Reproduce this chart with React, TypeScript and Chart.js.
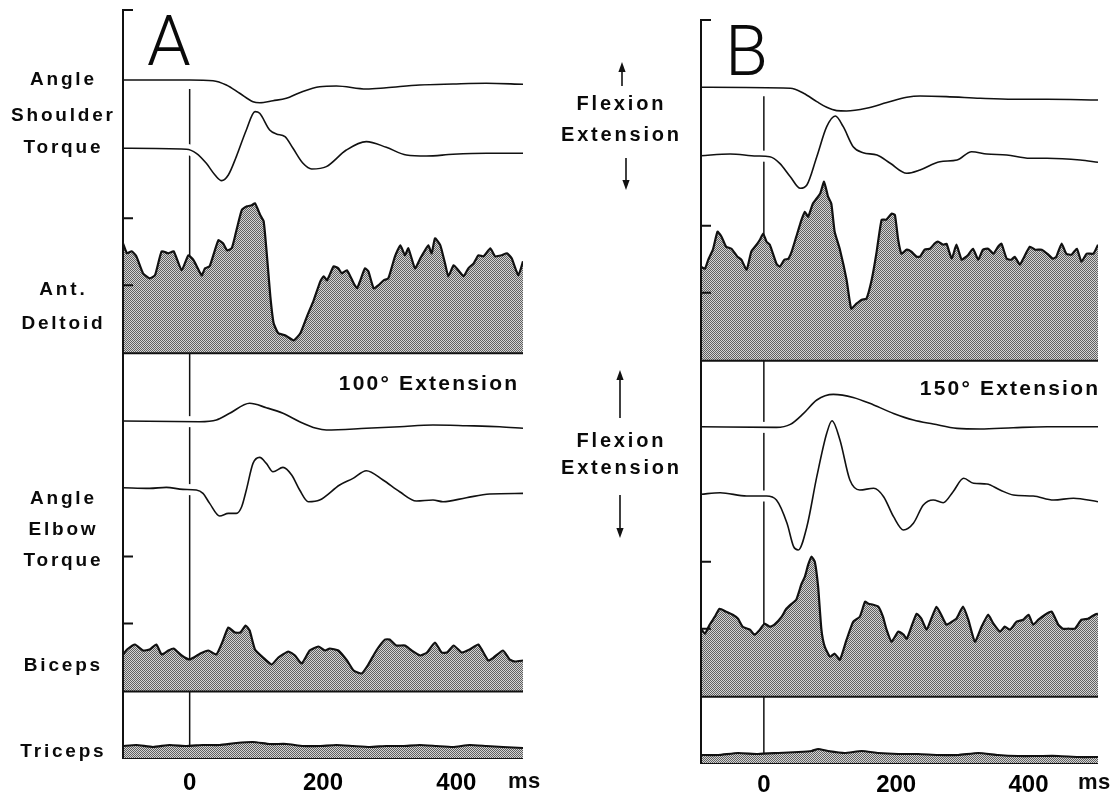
import React, { useEffect, useRef } from 'react';
import { Chart, registerables } from 'chart.js';

Chart.register(...registerables);

// ---------------- shared ----------------
const X_TICKS = [0, 200, 400];
const EMG_CALIB = [68, 135];
const ZERO_LINE_START = -9;

// ---------------- Panel A : 100° extension ----------------
const A_SH_ANGLE_T = [-100, 0, 35, 55, 75, 95, 105, 125, 145, 165, 195, 220, 265, 295, 345, 395, 445, 500];
const A_SH_ANGLE_V = [0, 0, -0.7, -5, -13.3, -21.7, -22.7, -20.7, -18.3, -12.7, -6.7, -6, -9, -7.7, -5, -4, -3.3, -4.3];

const A_SH_TORQUE_T = [-100, -5, 10, 25, 38, 48, 58, 70, 85, 98, 105, 120, 130, 143, 155, 170, 183, 205, 235, 265, 295, 325, 355, 395, 445, 500];
const A_SH_TORQUE_V = [0, -1, -5, -15, -26.7, -32.3, -26.7, -8.3, 18.3, 36.7, 35, 18.3, 14.3, 11.7, 0, -15, -20.7, -18.3, -1.7, 6.7, 1, -6.7, -7.7, -6, -5, -5];

const A_DELTOID_T = [-100, -94, -87, -80, -70, -60, -52, -42, -32, -24, -12, -2, 6, 18, 23, 30, 43, 50, 56, 63, 68, 78, 86, 93, 98, 106, 111, 116, 121, 126, 133, 143, 156, 166, 176, 186, 196, 201, 206, 216, 223, 228, 236, 246, 251, 256, 263, 268, 276, 283, 291, 298, 308, 316, 323, 328, 338, 346, 353, 358, 363, 368, 376, 383, 388, 396, 403, 411, 418, 426, 433, 441, 451, 458, 468, 476, 483, 493, 500];
const A_DELTOID_V = [110, 100, 102, 97, 80, 75, 78, 102, 100, 102, 83, 98, 93, 78, 85, 87, 113, 110, 103, 105, 117, 143, 147, 148, 150, 138, 132, 97, 57, 30, 20, 18, 13, 20, 37, 53, 72, 77, 73, 87, 85, 80, 83, 70, 65, 73, 85, 82, 65, 68, 73, 75, 97, 108, 98, 105, 85, 95, 103, 108, 100, 115, 108, 90, 77, 88, 83, 77, 85, 90, 98, 97, 105, 97, 98, 100, 95, 78, 92];

const A_EL_ANGLE_T = [-100, 15, 40, 60, 90, 115, 140, 165, 190, 205, 265, 315, 365, 415, 465, 500];
const A_EL_ANGLE_V = [0, -0.7, 1, 7.7, 17.7, 13.3, 7.7, -0.7, -7.3, -9, -7.3, -5.7, -4, -4.7, -5.7, -7.3];

const A_EL_TORQUE_T = [-100, -60, -35, -10, 10, 20, 30, 45, 58, 70, 78, 85, 95, 105, 115, 125, 140, 153, 165, 178, 195, 225, 245, 265, 290, 315, 340, 365, 380, 415, 450, 500];
const A_EL_TORQUE_V = [0, -0.7, 0.3, -1.7, -2.3, -5.7, -15.7, -28.3, -25.7, -25.7, -19, -2.3, 24.3, 30.3, 24.3, 16, 20.3, 12.7, -2.3, -14, -12.3, 2.7, 9.3, 17, 7.7, -4, -13.3, -12.3, -14, -10, -6.3, -5.7];

const A_BICEPS_T = [-100, -94, -82, -70, -60, -50, -42, -32, -24, -12, 0, 16, 28, 40, 50, 58, 68, 76, 84, 90, 98, 110, 123, 133, 148, 158, 168, 180, 193, 203, 210, 223, 236, 246, 258, 268, 280, 293, 300, 310, 323, 333, 346, 356, 368, 378, 386, 396, 408, 420, 433, 448, 456, 470, 480, 488, 500];
const A_BICEPS_V = [37, 42, 47, 41, 42, 47, 37, 41, 43, 36, 32, 38, 41, 37, 51, 64, 59, 59, 66, 61, 42, 34, 27, 34, 40, 36, 28, 41, 45, 41, 43, 41, 31, 21, 18, 27, 41, 52, 52, 46, 46, 41, 36, 39, 49, 39, 39, 46, 39, 42, 47, 31, 34, 41, 32, 30, 31];

const A_TRICEPS_T = [-100, -80, -55, -30, -5, 20, 45, 70, 95, 120, 145, 170, 195, 220, 245, 270, 295, 320, 345, 370, 395, 420, 445, 470, 500];
const A_TRICEPS_V = [13, 14, 12, 14, 13, 14, 14, 16, 17, 15, 15, 13, 13, 14, 13, 12, 13, 13, 14, 13, 12, 14, 13, 12, 11];

// ---------------- Panel B : 150° extension ----------------
const B_SH_ANGLE_T = [-95, 40, 60, 80, 95, 110, 125, 155, 186, 216, 236, 276, 327, 377, 428, 505];
const B_SH_ANGLE_V = [0, -1, -6, -14.3, -20, -23.3, -23.7, -21, -15.3, -10, -8.7, -9.3, -11, -12, -12, -12.7];

const B_SH_TORQUE_T = [-95, -51, -11, 9, 24, 40, 55, 65, 80, 95, 108, 120, 135, 150, 171, 191, 216, 236, 266, 292, 314, 337, 367, 402, 428, 478, 505];
const B_SH_TORQUE_V = [-0.7, 1, -1, -1.7, -8.3, -21.7, -33.3, -30, -1.7, 28.3, 39, 28.3, 8.3, 2.3, 0, -8.3, -18.3, -15, -6.7, -5, 3.3, 1, 0, -3.3, -3.3, -5, -7.3];

const B_DELTOID_T = [-95, -89, -84, -77, -70, -64, -57, -49, -40, -34, -26, -19, -11, -6, -1, 4, 9, 19, 24, 31, 37, 42, 49, 57, 62, 67, 74, 85, 91, 97, 102, 107, 115, 125, 132, 140, 148, 155, 163, 170, 178, 185, 193, 198, 203, 208, 216, 223, 231, 236, 243, 251, 258, 263, 271, 276, 284, 291, 299, 309, 316, 324, 331, 339, 347, 354, 359, 367, 374, 379, 387, 392, 402, 410, 420, 430, 437, 442, 450, 457, 465, 473, 480, 488, 498, 505];
const B_DELTOID_V = [94, 92, 101, 111, 129, 124, 114, 112, 104, 101, 91, 109, 116, 121, 127, 119, 116, 97, 94, 101, 102, 109, 124, 141, 149, 144, 157, 167, 179, 164, 157, 129, 111, 81, 52, 57, 61, 62, 81, 107, 141, 141, 147, 146, 121, 107, 111, 109, 104, 104, 111, 112, 117, 119, 116, 117, 102, 116, 101, 106, 112, 101, 111, 112, 107, 114, 117, 102, 101, 104, 96, 102, 114, 111, 111, 106, 102, 104, 117, 107, 106, 112, 99, 107, 107, 116];

const B_EL_ANGLE_T = [-95, 19, 40, 60, 80, 105, 135, 166, 196, 226, 256, 292, 327, 377, 428, 505];
const B_EL_ANGLE_V = [0, -0.7, 2.3, 13.3, 26.7, 32.3, 29.3, 21.7, 13.3, 6.7, 2.7, -1.7, -2.3, -1, 0, 0];

const B_EL_TORQUE_T = [-95, -66, -26, 4, 19, 35, 45, 52, 65, 80, 95, 103, 115, 130, 145, 166, 181, 196, 211, 226, 241, 256, 271, 286, 302, 317, 337, 357, 377, 407, 438, 468, 505];
const B_EL_TORQUE_V = [0.7, 2.3, -1, -1, -5, -28.3, -51.7, -55, -31.7, 18.3, 61.7, 74.3, 55, 15, 5, 6.7, -1.7, -21.7, -35, -28.3, -10, -5, -7.7, 3.3, 16.7, 11.7, 11, 5, 0, -1, -5, -3.3, -6.7];

const B_BICEPS_T = [-95, -89, -82, -74, -67, -57, -47, -39, -32, -21, -14, -6, 1, 9, 16, 27, 34, 42, 49, 57, 62, 67, 72, 77, 82, 87, 92, 100, 107, 115, 125, 135, 145, 153, 158, 165, 173, 180, 185, 193, 203, 211, 216, 223, 231, 238, 246, 253, 261, 268, 276, 284, 291, 301, 309, 319, 329, 339, 347, 357, 364, 372, 382, 392, 400, 407, 415, 425, 435, 445, 452, 460, 470, 480, 490, 500, 505];
const B_BICEPS_V = [68, 63, 72, 80, 88, 85, 82, 78, 70, 67, 62, 67, 73, 70, 72, 80, 88, 93, 97, 113, 120, 132, 140, 135, 110, 67, 50, 40, 43, 37, 57, 75, 80, 95, 93, 92, 90, 80, 68, 55, 65, 62, 58, 70, 83, 78, 67, 78, 90, 82, 72, 75, 78, 90, 77, 55, 70, 82, 73, 65, 70, 67, 75, 77, 82, 72, 77, 82, 85, 72, 68, 68, 68, 77, 78, 82, 83];

const B_TRICEPS_T = [-95, -69, -39, -9, 22, 52, 72, 82, 97, 122, 148, 173, 203, 233, 263, 294, 324, 354, 384, 415, 445, 475, 505];
const B_TRICEPS_V = [9, 9, 11, 10, 11, 12, 13, 15, 13, 11, 13, 11, 10, 10, 9, 9, 11, 9, 8, 8, 8, 7, 7];

// ---------------- layout (positions / styles only) ----------------
const FONT = '"Liberation Sans", Arial, Helvetica, sans-serif';
const PAGE_W = 1112;
const PAGE_H = 797;

type Trace = { id: string; t: number[]; v: number[]; base: number };
type Panel = {
  left: number; width: number; height: number;
  area: { top: number; bottom: number; left: number; right: number };
  xMin: number; xMax: number; tickPad: number;
  lines: Trace[]; emg: Trace[]; calib: string[];
};

const PANEL_A: Panel = {
  left: 0, width: 556, height: PAGE_H,
  area: { top: 10, bottom: 759, left: 123, right: 523 },
  xMin: -100, xMax: 500, tickPad: 10,
  lines: [
    { id: 'ySA', t: A_SH_ANGLE_T, v: A_SH_ANGLE_V, base: 80 },
    { id: 'yST', t: A_SH_TORQUE_T, v: A_SH_TORQUE_V, base: 148.3 },
    { id: 'yEA', t: A_EL_ANGLE_T, v: A_EL_ANGLE_V, base: 421 },
    { id: 'yET', t: A_EL_TORQUE_T, v: A_EL_TORQUE_V, base: 487.7 },
  ],
  emg: [
    { id: 'yDE', t: A_DELTOID_T, v: A_DELTOID_V, base: 353.3 },
    { id: 'yBI', t: A_BICEPS_T, v: A_BICEPS_V, base: 691.5 },
    { id: 'yTR', t: A_TRICEPS_T, v: A_TRICEPS_V, base: 759 },
  ],
  calib: ['yDE', 'yBI'],
};

const PANEL_B: Panel = {
  left: 556, width: 556, height: PAGE_H,
  area: { top: 20, bottom: 764, left: 145, right: 542 },
  xMin: -95, xMax: 505, tickPad: 7,
  lines: [
    { id: 'ySA', t: B_SH_ANGLE_T, v: B_SH_ANGLE_V, base: 87.3 },
    { id: 'yST', t: B_SH_TORQUE_T, v: B_SH_TORQUE_V, base: 155 },
    { id: 'yEA', t: B_EL_ANGLE_T, v: B_EL_ANGLE_V, base: 426.7 },
    { id: 'yET', t: B_EL_TORQUE_T, v: B_EL_TORQUE_V, base: 495 },
  ],
  emg: [
    { id: 'yDE', t: B_DELTOID_T, v: B_DELTOID_V, base: 360.7 },
    { id: 'yBI', t: B_BICEPS_T, v: B_BICEPS_V, base: 696.7 },
    { id: 'yTR', t: B_TRICEPS_T, v: B_TRICEPS_V, base: 764 },
  ],
  calib: ['yDE', 'yBI'],
};

function zip(t: number[], v: number[]) {
  return t.map((x, i) => ({ x, y: v[i] }));
}

function makePattern(): CanvasPattern | string {
  const c = document.createElement('canvas');
  c.width = 2;
  c.height = 2;
  const g = c.getContext('2d');
  if (!g) return '#9a9a9a';
  g.fillStyle = '#d4d4d4';
  g.fillRect(0, 0, 2, 2);
  g.fillStyle = '#606060';
  g.fillRect(0, 0, 1, 1);
  g.fillRect(1, 1, 1, 1);
  return g.createPattern(c, 'repeat') || '#9a9a9a';
}

function buildChart(canvas: HTMLCanvasElement, p: Panel) {
  const pattern = makePattern();
  const ink = '#111';
  const scales: any = {
    x: {
      type: 'linear',
      position: 'bottom',
      min: p.xMin,
      max: p.xMax,
      grid: { display: false, drawTicks: false },
      border: { display: false },
      ticks: {
        color: '#000',
        padding: p.tickPad,
        maxRotation: 0,
        autoSkip: false,
        font: { family: FONT, size: 24, weight: 'bold' },
      },
      afterBuildTicks: (s: any) => {
        s.ticks = X_TICKS.map((value) => ({ value }));
      },
      afterFit: (s: any) => {
        s.height = p.height - p.area.bottom;
      },
    },
  };
  const addAxis = (tr: Trace) => {
    scales[tr.id] = {
      type: 'linear',
      axis: 'y',
      position: 'left',
      display: false,
      min: -(p.area.bottom - tr.base),
      max: tr.base - p.area.top,
    };
  };
  const datasets: any[] = [];
  p.lines.forEach((tr) => {
    addAxis(tr);
    const data = zip(tr.t, tr.v);
    datasets.push({
      data, yAxisID: tr.id, borderColor: '#ffffff', borderWidth: 11,
      pointRadius: 0, fill: false, cubicInterpolationMode: 'monotone', order: 10,
    });
    datasets.push({
      data, yAxisID: tr.id, borderColor: ink, borderWidth: 1.6,
      pointRadius: 0, fill: false, cubicInterpolationMode: 'monotone', order: 1,
    });
  });
  p.emg.forEach((tr) => {
    addAxis(tr);
    datasets.push({
      data: zip(tr.t, tr.v), yAxisID: tr.id, borderColor: ink, borderWidth: 2.2,
      backgroundColor: pattern, fill: 'origin', pointRadius: 0, tension: 0.15, order: 3,
    });
    datasets.push({
      data: [{ x: p.xMin, y: 0 }, { x: p.xMax, y: 0 }], yAxisID: tr.id,
      borderColor: ink, borderWidth: 2, pointRadius: 0, fill: false, order: 2,
    });
  });

  const framePlugin = {
    id: 'frame',
    beforeDatasetsDraw(chart: any) {
      const { ctx, chartArea, scales: sc } = chart;
      const x0 = sc.x.getPixelForValue(0);
      const y0 = sc.ySA.getPixelForValue(ZERO_LINE_START);
      ctx.save();
      ctx.strokeStyle = ink;
      ctx.lineWidth = 1.5;
      ctx.beginPath();
      ctx.moveTo(x0, y0);
      ctx.lineTo(x0, chartArea.bottom);
      ctx.stroke();
      ctx.restore();
    },
    afterDatasetsDraw(chart: any) {
      const { ctx, chartArea, scales: sc } = chart;
      const l = chartArea.left;
      ctx.save();
      ctx.strokeStyle = ink;
      ctx.lineWidth = 2;
      ctx.beginPath();
      ctx.moveTo(l + 10, chartArea.top);
      ctx.lineTo(l, chartArea.top);
      ctx.lineTo(l, chartArea.bottom);
      p.calib.forEach((id) => {
        EMG_CALIB.forEach((v) => {
          const y = sc[id].getPixelForValue(v);
          ctx.moveTo(l, y);
          ctx.lineTo(l + 10, y);
        });
      });
      ctx.stroke();
      ctx.restore();
    },
  };

  return new Chart(canvas, {
    type: 'line',
    data: { datasets },
    options: {
      animation: false,
      responsive: false,
      events: [],
      devicePixelRatio: 1,
      layout: {
        padding: { left: p.area.left, right: p.width - p.area.right, top: p.area.top, bottom: 0 },
      },
      plugins: { legend: { display: false }, tooltip: { enabled: false } },
      scales,
    } as any,
    plugins: [framePlugin],
  });
}

function PanelCanvas({ p }: { p: Panel }) {
  const ref = useRef<HTMLCanvasElement | null>(null);
  useEffect(() => {
    if (!ref.current) return;
    const chart = buildChart(ref.current, p);
    return () => chart.destroy();
  }, [p]);
  return (
    <canvas
      ref={ref}
      width={p.width}
      height={p.height}
      style={{ position: 'absolute', left: p.left, top: 0, width: p.width, height: p.height }}
    />
  );
}

type TextProps = {
  text: string; x: number; baseline: number; size: number;
  align?: 'center' | 'left' | 'right'; spacing?: number; weight?: number; family?: string;
};

function Txt({ text, x, baseline, size, align = 'center', spacing = 0, weight = 700, family = FONT }: TextProps) {
  const top = baseline - 0.846 * size;
  const style: React.CSSProperties = {
    position: 'absolute',
    top,
    fontFamily: family,
    fontSize: size,
    fontWeight: weight,
    lineHeight: `${size}px`,
    letterSpacing: spacing,
    whiteSpace: 'nowrap',
    color: '#0a0a0a',
  };
  if (align === 'center') {
    style.left = x - 150;
    style.width = 300;
    style.textAlign = 'center';
    style.paddingLeft = spacing;
    style.boxSizing = 'border-box';
  } else if (align === 'left') {
    style.left = x;
  } else {
    style.right = PAGE_W - x - spacing;
    style.textAlign = 'right';
  }
  return <div style={style}>{text}</div>;
}

function Arrow({ x, tail, tip }: { x: number; tail: number; tip: number }) {
  const dir = tip > tail ? 1 : -1;
  const hb = tip - dir * 10;
  return (
    <g>
      <line x1={x} y1={tail} x2={x} y2={hb} stroke="#111" strokeWidth={1.6} />
      <polygon points={`${x - 3.6},${hb} ${x + 3.6},${hb} ${x},${tip}`} fill="#111" />
    </g>
  );
}

const LEFT_LABELS: [string, number][] = [
  ['Angle', 85], ['Shoulder', 121], ['Torque', 153], ['Ant.', 295], ['Deltoid', 329],
  ['Angle', 504], ['Elbow', 535], ['Torque', 566], ['Biceps', 671], ['Triceps', 757],
];
const MID_LABELS: [string, number][] = [
  ['Flexion', 110], ['Extension', 141], ['Flexion', 447], ['Extension', 474],
];

export default function App() {
  return (
    <div
      style={{
        position: 'fixed', left: 0, top: 0, width: PAGE_W, height: PAGE_H,
        background: '#ffffff', overflow: 'hidden',
      }}
    >
      <PanelCanvas p={PANEL_A} />
      <PanelCanvas p={PANEL_B} />

      {LEFT_LABELS.map(([t, b], i) => (
        <Txt key={'l' + i} text={t} x={62} baseline={b} size={19} spacing={2.8} />
      ))}
      {MID_LABELS.map(([t, b], i) => (
        <Txt key={'m' + i} text={t} x={620} baseline={b} size={20} spacing={2.8} />
      ))}

      <Txt text="100° Extension" x={517} baseline={390} size={21} spacing={2.2} align="right" />
      <Txt text="150° Extension" x={1098} baseline={395} size={21} spacing={2.2} align="right" />

      <Txt text="ms" x={508} baseline={789} size={22} spacing={0.5} align="left" />
      <Txt text="ms" x={1078} baseline={790} size={22} spacing={0.5} align="left" />

      <Txt text="A" x={147} baseline={65} size={70} align="left" weight={300} family="Roboto, 'DejaVu Sans', sans-serif" />
      <Txt text="B" x={725} baseline={75} size={70} align="left" weight={300} family="Roboto, 'DejaVu Sans', sans-serif" />

      <svg
        width={PAGE_W}
        height={PAGE_H}
        style={{ position: 'absolute', left: 0, top: 0, pointerEvents: 'none' }}
      >
        <Arrow x={622} tail={86} tip={62} />
        <Arrow x={626} tail={158} tip={190} />
        <Arrow x={620} tail={418} tip={370} />
        <Arrow x={620} tail={495} tip={538} />
      </svg>
    </div>
  );
}
